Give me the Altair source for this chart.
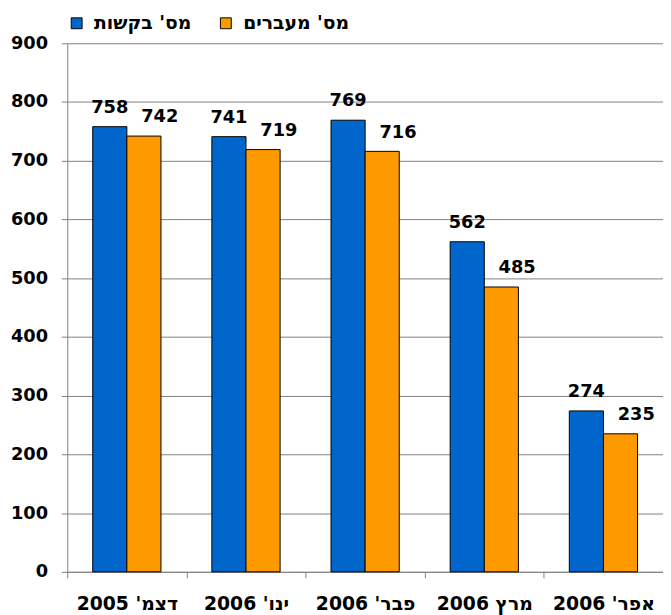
import altair as alt
import pandas as pd

months = ["דצמ' 2005", "ינו' 2006", "פבר' 2006", "מרץ 2006", "אפר' 2006"]
requests = [758, 741, 769, 562, 274]
transfers = [742, 719, 716, 485, 235]
series = ["מס' בקשות", "מס' מעברים"]
colors = ["#0066CC", "#FF9900"]
y_ticks = list(range(0, 1000, 100))

rows = []
for m, r, t in zip(months, requests, transfers):
    rows.append({"month": m, "series": series[0], "value": r})
    rows.append({"month": m, "series": series[1], "value": t})
df = pd.DataFrame(rows)

FONT = "DejaVu Sans"
GRID = "#808080"

x_enc = alt.X(
    "month:N",
    sort=months,
    title=None,
    scale=alt.Scale(paddingInner=0, paddingOuter=0),
    axis=alt.Axis(
        labelAngle=0,
        tickBand="extent",
        tickSize=6,
        tickColor=GRID,
        domainColor=GRID,
        labelPadding=17,
        labelFont=FONT,
        labelFontSize=19,
        labelFontWeight="bold",
        labelColor="black",
        grid=False,
    ),
)
xoff = alt.XOffset("series:N", sort=series,
                   scale=alt.Scale(paddingInner=0, paddingOuter=0.746))
y_enc = alt.Y(
    "value:Q",
    title=None,
    scale=alt.Scale(domain=[0, 900], nice=False),
    axis=alt.Axis(
        values=y_ticks,
        grid=True,
        gridColor=GRID,
        gridOpacity=1,
        tickSize=6,
        tickColor=GRID,
        domainColor=GRID,
        labelPadding=14,
        labelFont=FONT,
        labelFontSize=18,
        labelFontWeight="bold",
        labelColor="black",
    ),
)
color_enc = alt.Color(
    "series:N",
    sort=series,
    scale=alt.Scale(domain=series, range=colors),
    legend=alt.Legend(
        orient="none",
        legendX=0,
        legendY=-30,
        direction="horizontal",
        title=None,
        symbolType="square",
        symbolSize=121,
        symbolStrokeColor="black",
        symbolStrokeWidth=1,
        labelFont=FONT,
        labelFontSize=19,
        labelFontWeight="bold",
        labelColor="black",
        labelOffset=8,
        columnPadding=25,
        padding=0,
    ),
)

base = alt.Chart(df)
bars = base.mark_bar(stroke="black", strokeWidth=1).encode(
    x=x_enc, xOffset=xoff, y=y_enc, color=color_enc
)
txt_kw = dict(baseline="alphabetic", fontSize=18, fontWeight="bold", font=FONT, color="black")
t_blue = base.transform_filter(alt.datum.series == series[0]).mark_text(dy=-14, **txt_kw).encode(
    x=alt.X("month:N", sort=months), xOffset=xoff, y="value:Q", text="value:Q"
)
t_orange = base.transform_filter(alt.datum.series == series[1]).mark_text(dy=-14, dx=16, **txt_kw).encode(
    x=alt.X("month:N", sort=months), xOffset=xoff, y="value:Q", text="value:Q"
)

chart = (
    alt.layer(bars, t_blue, t_orange)
    .properties(
        width=603,
        height=535,
        padding={"left": 60, "top": 32, "right": 0, "bottom": 40},
        autosize="none",
        background="white",
    )
    .configure_view(stroke=None)
)

chart.save("out.html", embed_options={"renderer": "svg", "actions": False})
